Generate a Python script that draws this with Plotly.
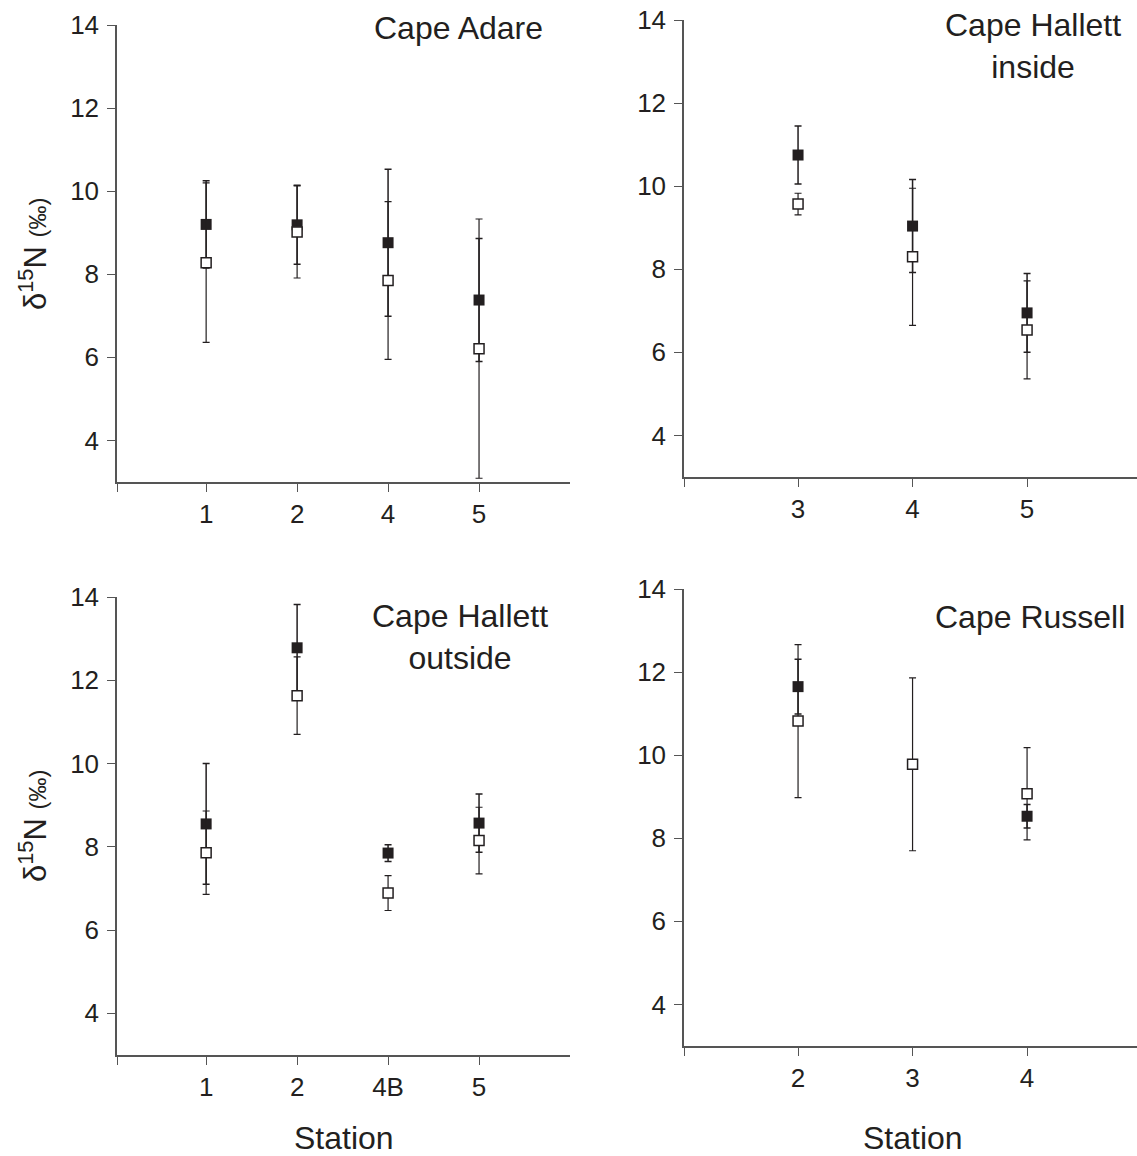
import plotly.graph_objects as go

# ---- data -------------------------------------------------------------
adare_stations = ["1", "2", "4", "5"]
adare_filled = [9.20, 9.19, 8.76, 7.38]
adare_filled_err = [1.05, 0.95, 1.77, 1.48]
adare_open = [8.28, 9.02, 7.85, 6.21]
adare_open_err = [1.92, 1.11, 1.90, 3.12]

inside_stations = ["3", "4", "5"]
inside_filled = [10.75, 9.04, 6.95]
inside_filled_err = [0.70, 1.12, 0.95]
inside_open = [9.57, 8.30, 6.54]
inside_open_err = [0.26, 1.65, 1.18]

outside_stations = ["1", "2", "4B", "5"]
outside_filled = [8.55, 12.78, 7.85, 8.57]
outside_filled_err = [1.45, 1.04, 0.20, 0.70]
outside_open = [7.86, 11.63, 6.89, 8.15]
outside_open_err = [1.00, 0.93, 0.42, 0.80]

russell_stations = ["2", "3", "4"]
russell_filled = [11.65, None, 8.53]
russell_filled_err = [0.66, None, 0.28]
russell_open = [10.82, 9.78, 9.07]
russell_open_err = [1.84, 2.08, 1.11]

y_ticks = [4, 6, 8, 10, 12, 14]

# ---- layout helpers ---------------------------------------------------
W, H = 1137, 1156
FONT = "Liberation Sans, Arial, sans-serif"
INK = "#231f20"
AXIS = "#555555"

def px(x):
    return x / W

def py(y):
    return 1 - y / H

panels = [
    (adare_stations, adare_filled, adare_filled_err, adare_open, adare_open_err,
     (117, 570), (482, 25), (0.02, 5.0)),
    (inside_stations, inside_filled, inside_filled_err, inside_open, inside_open_err,
     (684, 1137), (477, 20), (0.004, 3.96)),
    (outside_stations, outside_filled, outside_filled_err, outside_open, outside_open_err,
     (117, 570), (1055, 597), (0.02, 5.0)),
    (russell_stations, russell_filled, russell_filled_err, russell_open, russell_open_err,
     (684, 1137), (1046, 589), (0.004, 3.96)),
]

fig = go.Figure()
layout = {}
for i, (st, fv, fe, ov, oe, xd, yd, xr) in enumerate(panels, start=1):
    xa = "x" if i == 1 else f"x{i}"
    ya = "y" if i == 1 else f"y{i}"
    pos = list(range(1, len(st) + 1))
    fig.add_trace(go.Scatter(
        x=pos, y=fv, xaxis=xa, yaxis=ya, mode="markers",
        marker=dict(symbol="square", size=11, color=INK, line=dict(width=0)),
        error_y=dict(type="data", array=fe, visible=True, color=INK,
                     thickness=1.5, width=3.5),
        showlegend=False, hoverinfo="skip"))
    fig.add_trace(go.Scatter(
        x=pos, y=ov, xaxis=xa, yaxis=ya, mode="markers",
        marker=dict(symbol="square", size=10, color="white",
                    line=dict(width=1.5, color=INK)),
        error_y=dict(type="data", array=oe, visible=True, color=INK,
                     thickness=1.2, width=3.5),
        showlegend=False, hoverinfo="skip"))
    xkey = "xaxis" if i == 1 else f"xaxis{i}"
    ykey = "yaxis" if i == 1 else f"yaxis{i}"
    layout[xkey] = dict(
        domain=[px(xd[0]), px(xd[1])], range=list(xr), anchor=ya,
        tickvals=[xr[0]] + pos, ticktext=[""] + st,
        ticks="outside", ticklen=8, tickwidth=1.2, tickcolor=AXIS,
        showline=True, linecolor=AXIS, linewidth=1.5, automargin=False,
        showgrid=False, zeroline=False, ticklabelstandoff=0,
        tickfont=dict(family=FONT, size=26, color=INK), fixedrange=True)
    layout[ykey] = dict(
        domain=[py(yd[0]), py(yd[1])], range=[3, 14], anchor=xa,
        tickvals=y_ticks, ticks="outside", ticklen=8, tickwidth=1.2,
        tickcolor=AXIS, showline=True, linecolor=AXIS, linewidth=1.5,
        showgrid=False, zeroline=False, ticklabelstandoff=3, automargin=False,
        tickfont=dict(family=FONT, size=26, color=INK), fixedrange=True)

annotations = []
titles = [
    ("Cape Adare", 458, 28),
    ("Cape Hallett<br>inside", 1033, 46),
    ("Cape Hallett<br>outside", 460, 637),
    ("Cape Russell", 1030, 617),
]
for text, x, y in titles:
    annotations.append(dict(
        text=text, x=px(x), y=py(y), xref="paper", yref="paper",
        xanchor="center", yanchor="middle", showarrow=False, align="center",
        font=dict(family=FONT, size=32, color=INK)))

ytitle = "δ<sup>15</sup>N <span style='font-size:24px'>(‰)</span>"
for y in (254, 826):
    annotations.append(dict(
        text=ytitle, x=px(33), y=py(y), xref="paper", yref="paper",
        xanchor="center", yanchor="middle", showarrow=False, textangle=-90,
        font=dict(family=FONT, size=31, color=INK)))

for x in (344, 913):
    annotations.append(dict(
        text="Station", x=px(x), y=py(1138), xref="paper", yref="paper",
        xanchor="center", yanchor="middle", showarrow=False,
        font=dict(family=FONT, size=32, color=INK)))

fig.update_layout(
    width=W, height=H, margin=dict(l=0, r=0, t=0, b=0, pad=0, autoexpand=False),
    paper_bgcolor="white", plot_bgcolor="white",
    annotations=annotations, **layout)

fig.write_html("out.html")
